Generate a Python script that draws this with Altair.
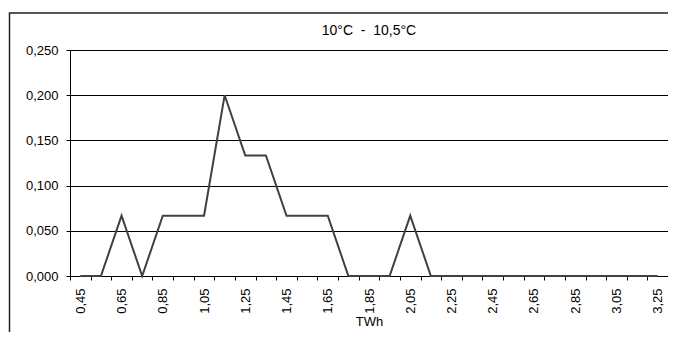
import altair as alt
import pandas as pd

# categories (TWh) and series values
twh = [0.45, 0.55, 0.65, 0.75, 0.85, 0.95, 1.05, 1.15, 1.25, 1.35,
       1.45, 1.55, 1.65, 1.75, 1.85, 1.95, 2.05, 2.15, 2.25, 2.35,
       2.45, 2.55, 2.65, 2.75, 2.85, 2.95, 3.05, 3.15, 3.25]
freq = [0.0, 0.0, 0.0667, 0.0, 0.0667, 0.0667, 0.0667, 0.2, 0.1333, 0.1333,
        0.0667, 0.0667, 0.0667, 0.0, 0.0, 0.0, 0.0667, 0.0, 0.0, 0.0,
        0.0, 0.0, 0.0, 0.0, 0.0, 0.0, 0.0, 0.0, 0.0]
y_ticks = [0.0, 0.05, 0.10, 0.15, 0.20, 0.25]
title_text = "10°C\u00a0\u00a0-\u00a0\u00a010,5°C"
x_title = "TWh"

df = pd.DataFrame({"twh": twh, "freq": freq})

FONT = "Liberation Sans"
W, H = 598, 226
PAD_L, PAD_T, PAD_B = 62, 42, 56

x_enc = alt.X(
    "twh:O",
    sort=twh,
    scale=alt.Scale(type="band", paddingInner=0, paddingOuter=0),
    axis=alt.Axis(
        title=x_title,
        labelAngle=-90,
        tickBand="extent",
        tickSize=4,
        labelPadding=8,
        titlePadding=2,
        titleFontWeight="normal",
        labelExpr="round(datum.value*100) % 20 == 5 ? replace(format(datum.value, '.2f'), '.', ',') : ''",
        grid=False,
    ),
)

line = alt.Chart(df).mark_line(color="#404040", strokeWidth=2).encode(
    x=x_enc,
    y=alt.Y(
        "freq:Q",
        scale=alt.Scale(domain=[0, 0.25], nice=False),
        axis=alt.Axis(
            title=None,
            values=y_ticks,
            labelExpr="replace(format(datum.value, '.3f'), '.', ',')",
            tickSize=4,
            labelPadding=8,
            grid=True,
            gridColor="#000000",
            gridWidth=1,
            gridOpacity=1,
        ),
    ),
)

one = alt.Data(values=[{"a": 1}])

frame = alt.Chart(one).mark_rect(
    fill=None, stroke="#222222", strokeWidth=1.5
).encode(
    x=alt.value(-PAD_L + 1.5),
    x2=alt.value(W + 2),
    y=alt.value(-PAD_T + 5),
    y2=alt.value(H + PAD_B + 2),
)
title = alt.Chart(one).mark_text(
    text=title_text, font=FONT, fontSize=14, color="#000000",
    align="center", baseline="middle",
).encode(x=alt.value(W / 2), y=alt.value(-19))

chart = (
    alt.layer(frame, title, line)
    .properties(
        width=W,
        height=H,
        autosize=alt.AutoSizeParams(type="none"),
        padding={"left": PAD_L, "top": PAD_T, "right": 0, "bottom": PAD_B},
        background="white",
    )
    .configure_view(stroke=None)
    .configure_axis(
        labelFont=FONT, titleFont=FONT, labelFontSize=13, titleFontSize=13,
        titleFontWeight="normal", labelColor="#000000", titleColor="#000000",
        domainColor="#000000", tickColor="#000000", domainWidth=1,
    )
)

chart.save("out.html", embed_options={"renderer": "svg", "actions": False})
